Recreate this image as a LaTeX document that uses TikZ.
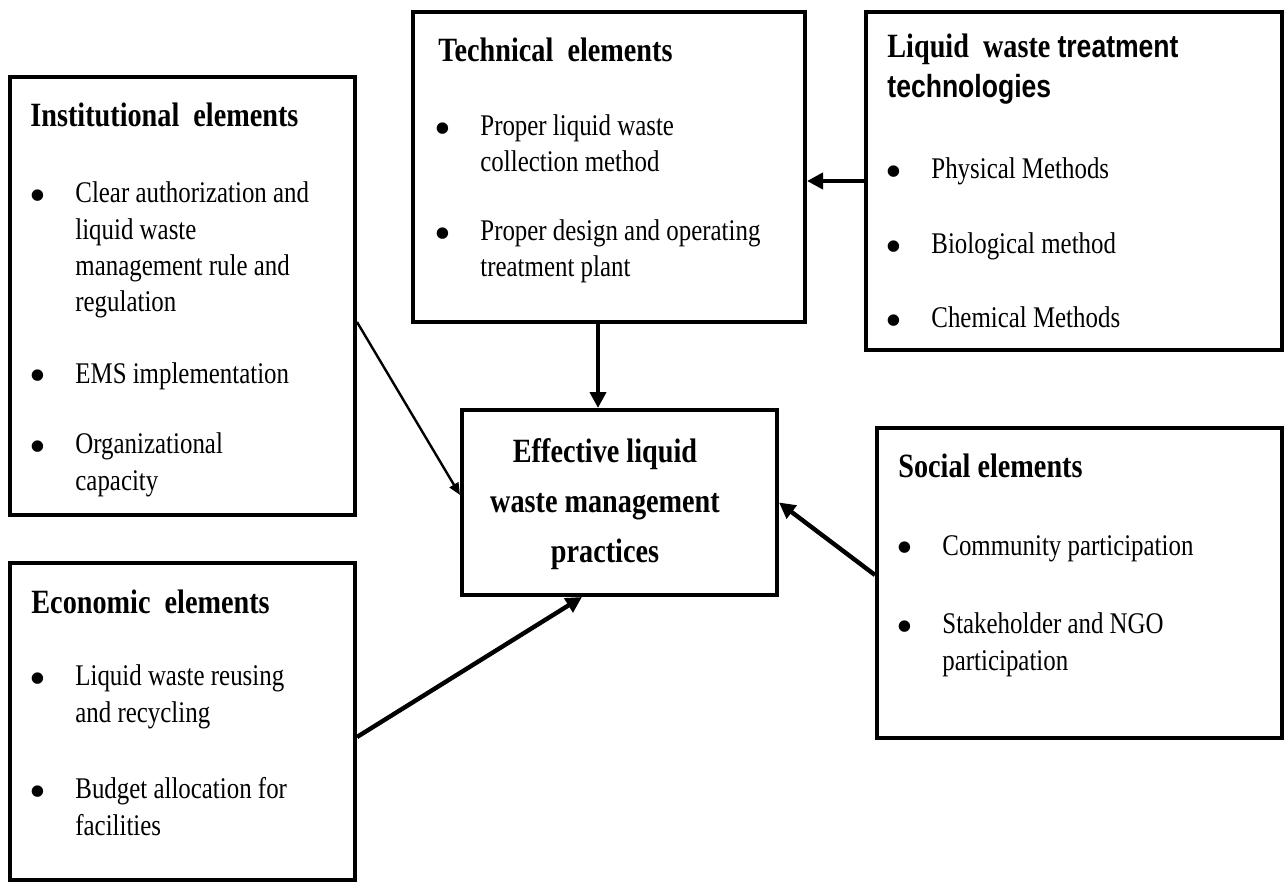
\documentclass[tikz,border=0pt]{standalone}
\usepackage{fontspec}
\setmainfont{Liberation Serif}[FakeStretch=0.83]
\newfontfamily\sansfam{Liberation Sans}[FakeStretch=0.83]
\newfontfamily\bulfont{Liberation Serif}
\usetikzlibrary{arrows.meta,positioning}

\tikzset{
  elbox/.style={draw, line width=2pt, inner sep=0pt},
  elhead/.style={anchor=base west, inner sep=0pt, align=left,
    font=\fontsize{17}{20}\selectfont\bfseries},
  elitem/.style={anchor=base west, inner sep=0pt, align=left,
    font=\fontsize{15}{18.25}\selectfont},
  cause/.style={line width=2.2pt, -{Triangle[length=8pt,width=8pt]}},
}
% bullet, centred 19pt left of the item text
\newcommand{\bul}{\llap{\makebox[0pt]{\raisebox{-4.3pt}{\bulfont\fontsize{24}{0}\selectfont\textbullet}}\hspace{19pt}}}

\begin{document}
\begin{tikzpicture}[x=0.5pt,y=-0.5pt]
  \useasboundingbox (0,0) rectangle (1285,882);

  % Define boxes
  \node[elbox, minimum width=172.5pt, minimum height=219pt] (inst) at (182.5,296) {};
  \node[elbox, minimum width=196pt, minimum height=155pt]   (tech) at (609,167) {};
  \node[elbox, minimum width=208pt, minimum height=169pt]   (lwt)  at (1074,181) {};
  \node[elbox, minimum width=157.5pt, minimum height=92.5pt] (eff) at (619.5,502.5) {};
  \node[elbox, minimum width=202.5pt, minimum height=155pt] (soc)  at (1079.5,583) {};
  \node[elbox, minimum width=172.5pt, minimum height=158.5pt] (econ) at (182.5,721.5) {};

  % Institutional elements (texts sit on the baseline of their last line)
  \node[elhead] (inst-h) at (30,127) {Institutional\ \ elements};
  \node[elitem] (inst-1) at (75,312) {\bul Clear authorization and\\liquid waste\\management rule and\\regulation};
  \node[elitem] (inst-2) at (75,383) {\bul EMS implementation};
  \node[elitem] (inst-3) at (75,490) {\bul Organizational\\capacity};

  % Technical elements
  \node[elhead] (tech-h) at (438,62) {Technical\ \ elements};
  \node[elitem] (tech-1) at (480,172) {\bul Proper liquid waste\\collection method};
  \node[elitem] (tech-2) at (480,277) {\bul Proper design and operating\\treatment plant};

  % Treatment technologies
  \node[elhead] (lwt-h) at (887,98)
    {Liquid\ \ waste {\sansfam\fontsize{16}{20}\selectfont treatment}\\{\sansfam\fontsize{16}{20}\selectfont technologies}};
  \node[elitem] (lwt-1) at (931,179) {\bul Physical Methods};
  \node[elitem] (lwt-2) at (931,254) {\bul Biological method};
  \node[elitem] (lwt-3) at (931,328) {\bul Chemical Methods};

  % Social elements
  \node[elhead] (soc-h) at (898,477) {Social elements};
  \node[elitem] (soc-1) at (942,555) {\bul Community participation};
  \node[elitem] (soc-2) at (942,670) {\bul Stakeholder and NGO\\participation};

  % Economic elements
  \node[elhead] (econ-h) at (31,613) {Economic\ \ elements};
  \node[elitem] (econ-1) at (75,722) {\bul Liquid waste reusing\\and recycling};
  \node[elitem] (econ-2) at (75,835) {\bul Budget allocation for\\facilities};

  % Centre
  \node[elhead, anchor=base, align=center, font=\fontsize{17}{25}\selectfont\bfseries] (eff-t) at (605,562)
    {Effective liquid\\waste management\\practices};

  % Connect the boxes
  \draw[cause] (lwt.west) -- (lwt.west -| tech.east);
  \draw[cause] ([xshift=-5.5pt]tech.south) -- ([xshift=-5.5pt]tech.south |- eff.north);
  \draw[cause, line width=1.2pt, -{Triangle[length=6pt,width=5pt]}] ([yshift=-13pt]inst.east) -- ([yshift=3.75pt]eff.west);
  \draw[cause] ([yshift=-7.75pt]econ.east) -- ([xshift=-18.75pt]eff.south);
  \draw[cause] ([yshift=4pt]soc.west) -- (eff.east);

\end{tikzpicture}
\end{document}
